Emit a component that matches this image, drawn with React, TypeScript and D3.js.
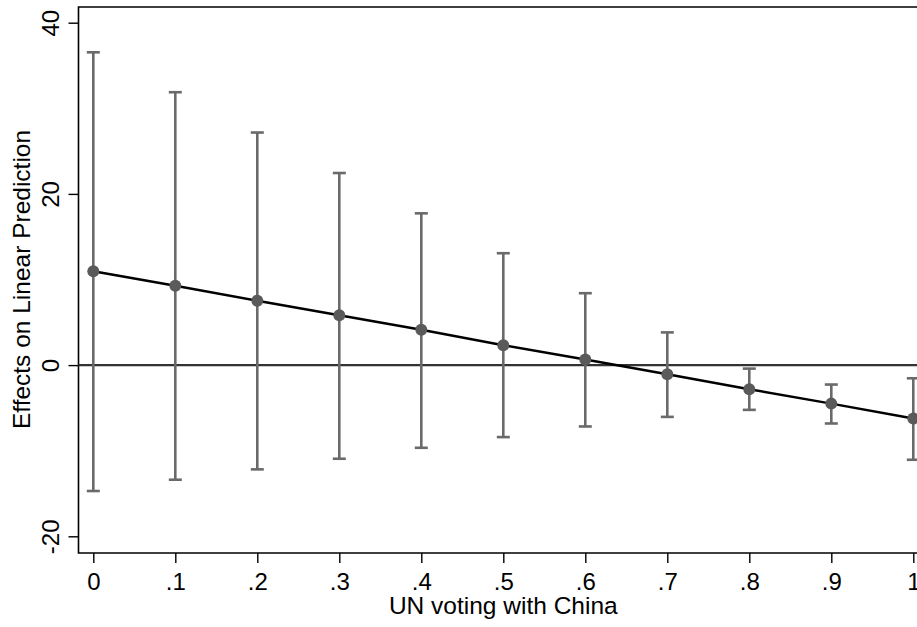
import { axisBottom, axisLeft, line, scaleLinear, select } from 'd3';
import React, { useEffect, useRef } from 'react';

// values
const unVoting = [0, 0.1, 0.2, 0.3, 0.4, 0.5, 0.6, 0.7, 0.8, 0.9, 1];
const effect = [10.97, 9.26, 7.52, 5.82, 4.12, 2.33, 0.66, -1.07, -2.81, -4.5, -6.24];
const ciUpper = [36.54, 31.88, 27.17, 22.44, 17.73, 13.07, 8.4, 3.82, -0.41, -2.27, -1.54];
const ciLower = [-14.71, -13.39, -12.18, -10.94, -9.66, -8.41, -7.17, -6.05, -5.23, -6.82, -11.06];
const xTicks = [0, 0.1, 0.2, 0.3, 0.4, 0.5, 0.6, 0.7, 0.8, 0.9, 1];
const xTickLabels = ['0', '.1', '.2', '.3', '.4', '.5', '.6', '.7', '.8', '.9', '1'];
const yTicks = [-20, 0, 20, 40];

const width = 917;
const height = 627;
const font = 'Liberation Sans, Arial, Helvetica, sans-serif';

const App: React.FC = () => {
  const svgRef = useRef<SVGSVGElement>(null);

  useEffect(() => {
    const svg = select(svgRef.current);
    svg.selectAll('*').remove();

    const xScale = scaleLinear().domain([0, 1]).range([93.3, 913.3]);
    const yScale = scaleLinear().domain([-20, 40]).range([536.3, 22.7]);

    const boxLeft = 78.5;
    const boxRight = 928;
    const boxTop = 7;
    const boxBottom = 553;

    const rows = unVoting.map((x, i) => ({
      x,
      est: effect[i],
      hi: ciUpper[i],
      lo: ciLower[i],
    }));

    // plot box (right side falls outside the picture)
    svg
      .append('path')
      .attr('d', `M${boxRight},${boxTop}H${boxLeft}V${boxBottom}H${boxRight}`)
      .attr('fill', 'none')
      .attr('stroke', 'black')
      .attr('stroke-width', 1.6);

    // axes
    const xAxis = axisBottom(xScale)
      .tickValues(xTicks)
      .tickSize(10)
      .tickPadding(10)
      .tickFormat((d, i) => xTickLabels[i]);
    const gx = svg
      .append('g')
      .attr('transform', `translate(0,${boxBottom})`)
      .call(xAxis);
    gx.select('.domain').remove();
    gx.selectAll('line').attr('stroke', 'black').attr('stroke-width', 1.4);
    gx.selectAll('text')
      .attr('fill', 'black')
      .style('font-family', font)
      .style('font-size', '24px');

    const yAxis = axisLeft(yScale).tickValues(yTicks).tickSize(10).tickPadding(0).tickFormat((d) => `${d}`);
    const gy = svg
      .append('g')
      .attr('transform', `translate(${boxLeft},0)`)
      .call(yAxis);
    gy.select('.domain').remove();
    gy.selectAll('line').attr('stroke', 'black').attr('stroke-width', 1.4);
    gy.selectAll('text')
      .attr('fill', 'black')
      .attr('x', null)
      .attr('dy', null)
      .attr('text-anchor', 'middle')
      .attr('transform', 'translate(-20,0) rotate(-90)')
      .style('font-family', font)
      .style('font-size', '24px');

    // zero reference line
    svg
      .append('line')
      .attr('x1', boxLeft)
      .attr('x2', boxRight)
      .attr('y1', yScale(0))
      .attr('y2', yScale(0))
      .attr('stroke', '#333333')
      .attr('stroke-width', 2.2);

    // confidence intervals
    const ci = svg.append('g').attr('stroke', '#6a6a6a').attr('stroke-width', 2.6);
    ci.selectAll('.ci')
      .data(rows)
      .join('line')
      .attr('x1', (d) => xScale(d.x))
      .attr('x2', (d) => xScale(d.x))
      .attr('y1', (d) => yScale(d.hi))
      .attr('y2', (d) => yScale(d.lo));
    ci.selectAll('.cap-hi')
      .data(rows)
      .join('line')
      .attr('x1', (d) => xScale(d.x) - 6.5)
      .attr('x2', (d) => xScale(d.x) + 6.5)
      .attr('y1', (d) => yScale(d.hi))
      .attr('y2', (d) => yScale(d.hi));
    ci.selectAll('.cap-lo')
      .data(rows)
      .join('line')
      .attr('x1', (d) => xScale(d.x) - 6.5)
      .attr('x2', (d) => xScale(d.x) + 6.5)
      .attr('y1', (d) => yScale(d.lo))
      .attr('y2', (d) => yScale(d.lo));

    // estimate line + markers
    const lineGen = line<{ x: number; est: number }>()
      .x((d) => xScale(d.x))
      .y((d) => yScale(d.est));
    svg
      .append('path')
      .datum(rows)
      .attr('fill', 'none')
      .attr('stroke', 'black')
      .attr('stroke-width', 2.5)
      .attr('d', lineGen);
    svg
      .append('g')
      .selectAll('circle')
      .data(rows)
      .join('circle')
      .attr('cx', (d) => xScale(d.x))
      .attr('cy', (d) => yScale(d.est))
      .attr('r', 6)
      .attr('fill', '#5a5a5a');

    // axis titles, centred on the axis ranges
    svg
      .append('text')
      .attr('x', (xScale(0) + xScale(1)) / 2)
      .attr('y', 614)
      .attr('text-anchor', 'middle')
      .style('font-family', font)
      .style('font-size', '24.5px')
      .text('UN voting with China');
    svg
      .append('text')
      .attr('transform', `translate(30,${(yScale(-20) + yScale(40)) / 2}) rotate(-90)`)
      .attr('text-anchor', 'middle')
      .style('font-family', font)
      .style('font-size', '24.5px')
      .text('Effects on Linear Prediction');
  }, []);

  return (
    <svg
      ref={svgRef}
      width={width}
      height={height}
      style={{ position: 'fixed', left: 0, top: 0, background: 'white' }}
    />
  );
};

export default App;
